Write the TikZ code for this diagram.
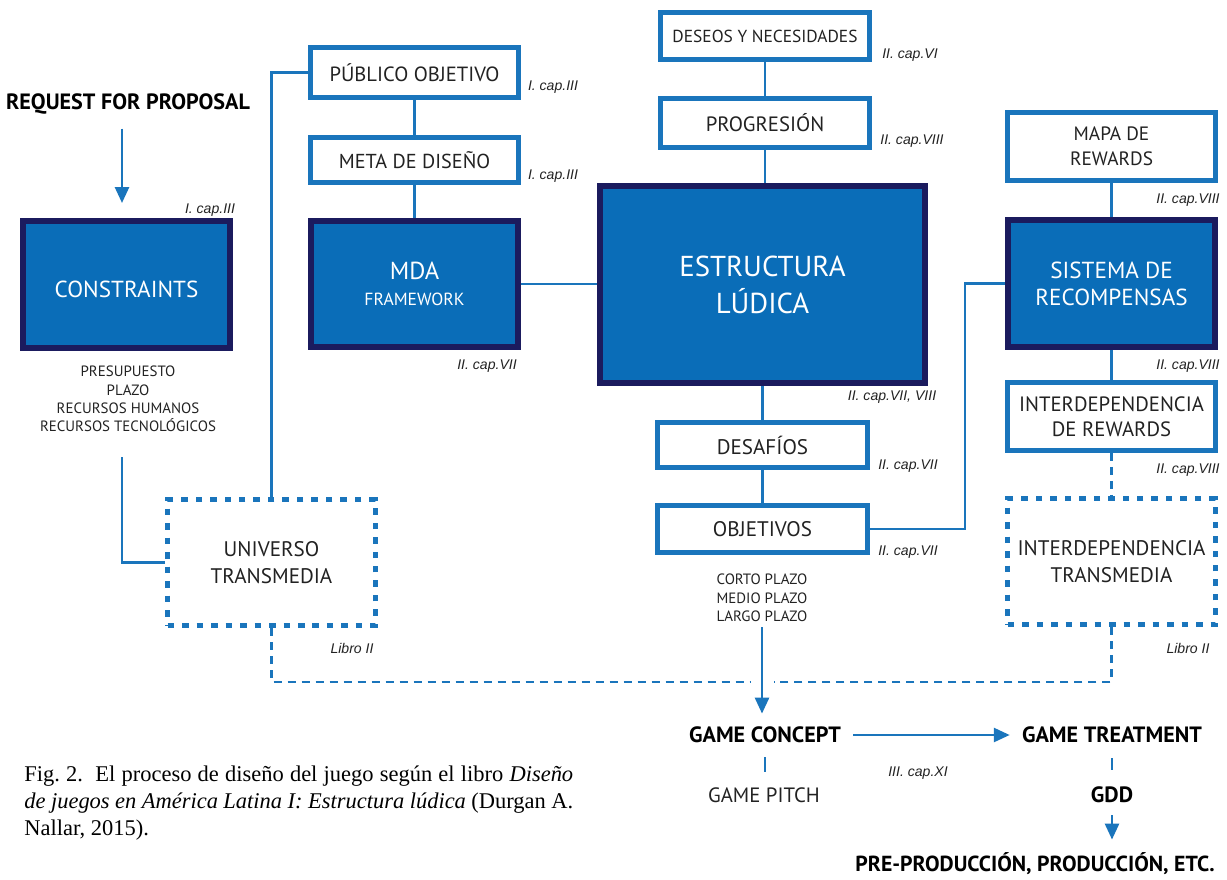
\documentclass[tikz,border=0pt]{standalone}
\usepackage{fontspec}
\setmainfont{Liberation Serif}
\newfontfamily\labelfont{PT Sans}
\newfontfamily\reffont{Liberation Sans}
\usetikzlibrary{arrows.meta}

\definecolor{boxblue}{HTML}{0A6DB8}
\definecolor{navyline}{HTML}{1B1B5E}
\definecolor{lineblue}{HTML}{1A75BC}
\definecolor{textgray}{HTML}{222222}

\newcommand{\lf}[2]{\labelfont\fontsize{#1}{#2}\selectfont}

\tikzset{
  wbox/.style={draw=lineblue, line width=0.1cm, fill=white, text=textgray, minimum width=4.16cm, inner sep=0pt, align=center, font=\lf{11.7}{14}},
  bbox/.style={draw=navyline, line width=0.12cm, fill=boxblue, text=white, minimum width=4.14cm, minimum height=2.54cm, inner sep=0pt, align=center, execute at begin node={\rule{0pt}{1.12em}}},
  tbox/.style={draw=lineblue, line width=0.11cm, dash pattern=on 0.13cm off 0.16cm, fill=white, text=textgray, minimum width=4.16cm, inner sep=0pt, align=center, font=\lf{12}{15}},
  conn/.style={draw=lineblue, line width=0.055cm},
  dconn/.style={conn, dash pattern=on 0.16cm off 0.12cm},
  arr/.style={conn, -{Triangle[width=0.28cm,length=0.32cm]}},
  ref/.style={font=\reffont\itshape\fontsize{8}{10}\selectfont, text=textgray, inner sep=0pt},
  note/.style={font=\lf{8.5}{10.4}, text=textgray, align=center, inner sep=0pt},
  head/.style={font=\labelfont\bfseries\fontsize{12.6}{15}\selectfont, text=black, inner sep=0pt},
}

\begin{document}
\begin{tikzpicture}[x=0.02cm,y=-0.02cm]
\useasboundingbox (0,0) rectangle (1227,879);

% columna izquierda
\node[head] (rfp) at (128,104) {REQUEST FOR PROPOSAL};
\node[bbox, font=\lf{13.2}{16}] (constraints) at (126.5,284.5) {CONSTRAINTS};
\node[ref] at (210,210) {I. cap.III};
\node[note] (clist) at (128,399) {PRESUPUESTO\\PLAZO\\RECURSOS HUMANOS\\RECURSOS TECNOLÓGICOS};
\coordinate (cbot) at (122,457);
\node[tbox, minimum height=2.52cm] (universo) at (271.5,562.5) {UNIVERSO\\TRANSMEDIA};
\node[ref] at (352,648) {Libro II};

% MDA
\node[wbox, minimum height=1.0cm] (publico) at (414.5,72.5) {PÚBLICO OBJETIVO};
\node[ref] at (553,87) {I. cap.III};
\node[wbox, minimum height=0.9cm, font=\lf{11.5}{14}] (meta) at (414.5,160) {META DE DISEÑO};
\node[ref] at (553,176) {I. cap.III};
\node[bbox, font=\lf{14}{16}] (mda) at (414.5,284) {MDA\\[-1pt]{\lf{10}{12}FRAMEWORK}};
\node[ref] at (487,366) {II. cap.VII};

% estructura ludica
\node[wbox, minimum width=4.18cm, minimum height=0.94cm, font=\lf{9.9}{12}] (deseos) at (765,36) {DESEOS Y NECESIDADES};
\node[ref] at (910,55) {II. cap.VI};
\node[wbox, minimum width=4.18cm, minimum height=0.98cm, font=\lf{11.8}{14}] (progresion) at (765,123) {PROGRESIÓN};
\node[ref] at (912,141) {II. cap.VIII};
\node[bbox, minimum width=6.5cm, minimum height=3.94cm, font=\lf{16.4}{21}] (estructura) at (762.5,284.5) {ESTRUCTURA\\LÚDICA};
\node[ref] at (892,397) {II. cap.VII, VIII};
\node[wbox, minimum width=4.2cm, minimum height=0.9cm, font=\lf{12}{14}] (desafios) at (762.5,445) {DESAFÍOS};
\node[ref] at (908,466) {II. cap.VII};
\node[wbox, minimum width=4.2cm, minimum height=0.94cm, font=\lf{12}{14}] (objetivos) at (762.5,529) {OBJETIVOS};
\node[ref] at (908,552) {II. cap.VII};
\node[note] (olist) at (762,598) {CORTO PLAZO\\MEDIO PLAZO\\LARGO PLAZO};

% recompensas
\node[wbox, minimum height=1.36cm, font=\lf{11}{14}] (mapa) at (1111.5,146.5) {MAPA DE\\REWARDS};
\node[ref] at (1188,200) {II. cap.VIII};
\node[bbox, font=\lf{13.2}{15.5}] (sistema) at (1111.5,283.5) {SISTEMA DE\\RECOMPENSAS};
\node[ref] at (1188,366) {II. cap.VIII};
\node[wbox, minimum height=1.36cm, font=\lf{11.8}{14.5}] (irewards) at (1111.5,416.5) {INTERDEPENDENCIA\\DE REWARDS};
\node[ref] at (1188,470) {II. cap.VIII};
\node[tbox, minimum height=2.52cm] (itransmedia) at (1111.5,561.5) {INTERDEPENDENCIA\\TRANSMEDIA};
\node[ref] at (1188,648) {Libro II};

% juego
\node[head] (concept) at (765,735) {GAME CONCEPT};
\node[head] (treatment) at (1112,735) {GAME TREATMENT};
\node[font=\lf{11.8}{14}, text=textgray, inner sep=0pt] (pitch) at (764,795) {GAME PITCH};
\node[ref] at (918,773) {III. cap.XI};
\node[head] (gdd) at (1112,795) {GDD};
\node[head, font=\labelfont\bfseries\fontsize{12.4}{15}\selectfont] (prod) at (1035,864) {PRE-PRODUCCIÓN, PRODUCCIÓN, ETC.};

% conexiones
\draw[arr, shorten <=0.28cm, shorten >=0.3cm] (rfp.south -| cbot) -- (cbot |- constraints.north);
\draw[conn] (cbot) |- (universo.west);
\draw[conn] (universo.north) |- (publico.west);
\draw[conn] (publico) -- (meta);
\draw[conn] (meta) -- (mda);
\draw[conn] (mda.east) -- (mda.east -| estructura.west);
\draw[conn] (deseos) -- (progresion);
\draw[conn] (progresion.south) -- (progresion.south |- estructura.north);
\draw[conn] (estructura) -- (desafios);
\draw[conn] (desafios) -- (objetivos);
\draw[conn] (objetivos.east) -- ++(95,0) |- (sistema.west);
\draw[conn] (mapa) -- (sistema);
\draw[conn] (sistema) -- (irewards);
\draw[dconn] (irewards.south) -- (itransmedia.north);
\coordinate (gapl) at (750,682);
\coordinate (gapr) at (774,682);
\draw[dconn] (universo.south) |- (gapl);
\draw[dconn] (itransmedia.south) |- (gapr);
\draw[arr, shorten <=0.1cm, shorten >=0.26cm] (olist.south) -- (olist.south |- concept.north);
\draw[arr, shorten <=0.24cm, shorten >=0.24cm] (concept.east) -- (treatment.west);
\draw[conn, shorten <=0.28cm, shorten >=0.3cm] (concept.south) -- (concept.south |- pitch.north);
\draw[conn, shorten <=0.3cm, shorten >=0.34cm] (treatment.south) -- (gdd.north);
\draw[arr, shorten <=0.24cm, shorten >=0.26cm] (gdd.south) -- (gdd.south |- prod.north);

% pie de figura
\node[anchor=north west, inner sep=0pt, text width=10.98cm, align=justify, font=\fontsize{12.8}{15.1}\selectfont] (caption) at (24,766)
  {Fig.~2.\ \ El proceso de diseño del juego según el libro \textit{Diseño}\linebreak \textit{de juegos en América Latina I: Estructura lúdica} (Durgan A.\linebreak Nallar, 2015).};

\end{tikzpicture}
\end{document}
